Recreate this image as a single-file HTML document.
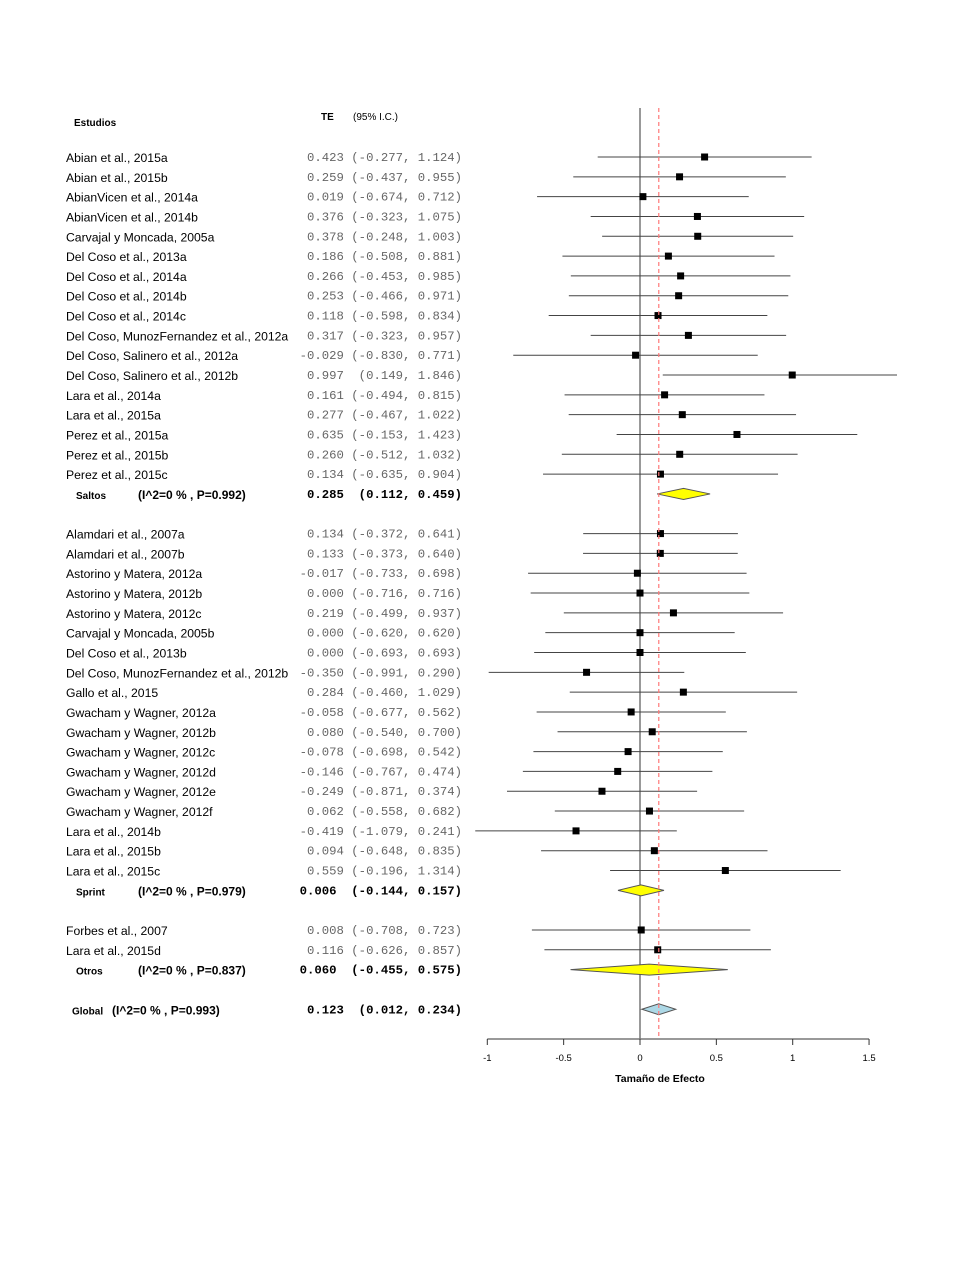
<!DOCTYPE html>
<html><head><meta charset="utf-8"><style>
body{margin:0;background:#fff}
svg{display:block}
.nm{font-family:"Liberation Sans",sans-serif;font-size:12.2px;fill:#000}
.mono{font-family:"Liberation Mono",monospace;font-size:12.3px;fill:#666;white-space:pre}
.monob{font-family:"Liberation Mono",monospace;font-size:12.3px;fill:#000;font-weight:bold;white-space:pre}
.sb{font-family:"Liberation Sans",sans-serif;font-size:10px;font-weight:bold}
.hb{font-family:"Liberation Sans",sans-serif;font-size:12px;font-weight:bold}
.tk{font-family:"Liberation Sans",sans-serif;font-size:9.5px}
</style></head><body>
<svg id="plot" width="960" height="1280">
<text x="74" y="126" class="sb">Estudios</text>
<text x="321" y="120" class="sb">TE</text>
<text x="353" y="120" class="sb" style="font-weight:normal;font-size:10px">(95% I.C.)</text>
<text x="660" y="1082" class="sb" text-anchor="middle" style="font-size:10.5px">Tamaño de Efecto</text>
</svg>
<script>
const studies=["Abian et al., 2015a","Abian et al., 2015b","AbianVicen et al., 2014a","AbianVicen et al., 2014b","Carvajal y Moncada, 2005a","Del Coso et al., 2013a","Del Coso et al., 2014a","Del Coso et al., 2014b","Del Coso et al., 2014c","Del Coso, MunozFernandez et al., 2012a","Del Coso, Salinero et al., 2012a","Del Coso, Salinero et al., 2012b","Lara et al., 2014a","Lara et al., 2015a","Perez et al., 2015a","Perez et al., 2015b","Perez et al., 2015c",
"Alamdari et al., 2007a","Alamdari et al., 2007b","Astorino y Matera, 2012a","Astorino y Matera, 2012b","Astorino y Matera, 2012c","Carvajal y Moncada, 2005b","Del Coso et al., 2013b","Del Coso, MunozFernandez et al., 2012b","Gallo et al., 2015","Gwacham y Wagner, 2012a","Gwacham y Wagner, 2012b","Gwacham y Wagner, 2012c","Gwacham y Wagner, 2012d","Gwacham y Wagner, 2012e","Gwacham y Wagner, 2012f","Lara et al., 2014b","Lara et al., 2015b","Lara et al., 2015c",
"Forbes et al., 2007","Lara et al., 2015d"];
const te=[0.423,0.259,0.019,0.376,0.378,0.186,0.266,0.253,0.118,0.317,-0.029,0.997,0.161,0.277,0.635,0.260,0.134,
0.134,0.133,-0.017,0.000,0.219,0.000,0.000,-0.350,0.284,-0.058,0.080,-0.078,-0.146,-0.249,0.062,-0.419,0.094,0.559,
0.008,0.116];
const lo=[-0.277,-0.437,-0.674,-0.323,-0.248,-0.508,-0.453,-0.466,-0.598,-0.323,-0.830,0.149,-0.494,-0.467,-0.153,-0.512,-0.635,
-0.372,-0.373,-0.733,-0.716,-0.499,-0.620,-0.693,-0.991,-0.460,-0.677,-0.540,-0.698,-0.767,-0.871,-0.558,-1.079,-0.648,-0.196,
-0.708,-0.626];
const hi=[1.124,0.955,0.712,1.075,1.003,0.881,0.985,0.971,0.834,0.957,0.771,1.846,0.815,1.022,1.423,1.032,0.904,
0.641,0.640,0.698,0.716,0.937,0.620,0.693,0.290,1.029,0.562,0.700,0.542,0.474,0.374,0.682,0.241,0.835,1.314,
0.723,0.857];
const group=[0,0,0,0,0,0,0,0,0,0,0,0,0,0,0,0,0,1,1,1,1,1,1,1,1,1,1,1,1,1,1,1,1,1,1,2,2];
const sumNames=["Saltos","Sprint","Otros","Global"];
const sumHet=["(I^2=0 % , P=0.992)","(I^2=0 % , P=0.979)","(I^2=0 % , P=0.837)","(I^2=0 % , P=0.993)"];
const sumTe=[0.285,0.006,0.060,0.123];
const sumLo=[0.112,-0.144,-0.455,0.012];
const sumHi=[0.459,0.157,0.575,0.234];
const ticks=[-1,-0.5,0,0.5,1,1.5];
const tickLabels=["-1","-0.5","0","0.5","1","1.5"];

const svg=document.getElementById('plot');
const NS='http://www.w3.org/2000/svg';
const X=v=>640+v*152.7;
const RY=i=>157+i*19.82;
const XMIN=X(-1.1),XMAX=897;
function mk(t,a){const e=document.createElementNS(NS,t);for(const k in a)e.setAttribute(k,a[k]);svg.appendChild(e);return e;}
const f=v=>v.toFixed(3);
const ci=(a,b)=>(a<0?' (':'  (')+f(a)+', '+f(b)+')';
let rows=[],sumRows=[],r=0;
for(let g=0;g<3;g++){for(let i=0;i<studies.length;i++)if(group[i]===g){rows[i]=r++;}sumRows[g]=r++;r++;}
sumRows[3]=r;
const yTop=108,yBottom=RY(r)+20;
let z=mk('line',{x1:X(0),x2:X(0),y1:yTop,y2:yBottom+9,stroke:'#333','stroke-width':1});


for(let i=0;i<studies.length;i++){
  const y=RY(rows[i]);
  let t=mk('text',{x:66,y:y+5,class:'nm'});t.textContent=studies[i];
  
  
  t=mk('text',{x:462,y:y+4,class:'mono','text-anchor':'end'});
  t.textContent=f(te[i])+ci(lo[i],hi[i]);
  
  
  const l=mk('line',{x1:Math.max(XMIN,X(lo[i])),x2:Math.min(XMAX,X(hi[i])),y1:y,y2:y,stroke:'#444','stroke-width':1});
  
  
  const s=mk('rect',{x:X(te[i])-3.5,y:y-3.5,width:7,height:7,fill:'#000'});
  
  
}
for(let g=0;g<4;g++){
  const y=RY(sumRows[g]);
  let t=mk('text',{x:g===3?72:76,y:y+5,class:'sb'});t.textContent=sumNames[g];
  
  
  t=mk('text',{x:g===3?112:138,y:y+5,class:'hb'});t.textContent=sumHet[g];
  
  
  t=mk('text',{x:462,y:y+4,class:'monob','text-anchor':'end'});
  t.textContent=f(sumTe[g])+'  ('+f(sumLo[g])+', '+f(sumHi[g])+')';
  
  
  const d=mk('polygon',{points:`${X(sumLo[g])},${y} ${X(sumTe[g])},${y-5.5} ${X(sumHi[g])},${y} ${X(sumTe[g])},${y+5.5}`,fill:g===3?'#add8e6':'#ffff00',stroke:'#555','stroke-width':1});
  
  
}
const dl=mk('line',{x1:X(sumTe[3]),x2:X(sumTe[3]),y1:yTop,y2:yBottom+9,stroke:'#ff7777','stroke-width':1.2,'stroke-dasharray':'4,3'});


const ay=1039;
const ax=mk('line',{x1:X(ticks[0]),x2:X(ticks[ticks.length-1]),y1:ay,y2:ay,stroke:'#333','stroke-width':1});


ticks.forEach((v,i)=>{
  const tl=mk('line',{x1:X(v),x2:X(v),y1:ay,y2:ay+6,stroke:'#333'});
  
  
  const t=mk('text',{x:X(v),y:ay+22,class:'tk','text-anchor':'middle'});t.textContent=tickLabels[i];
  
  
});
</script>
</body></html>
